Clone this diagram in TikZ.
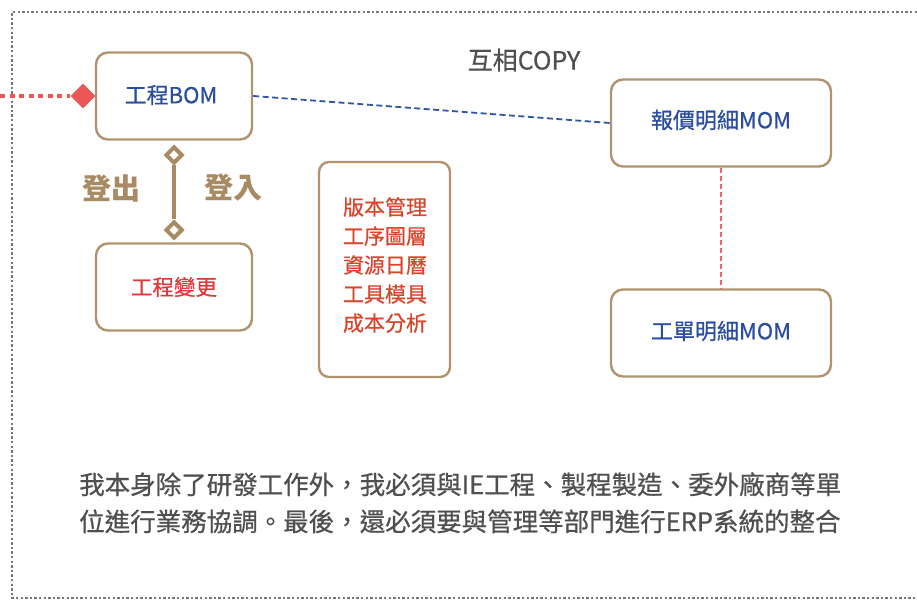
\documentclass[tikz,border=0pt]{standalone}
\usepackage{fontspec}
\setmainfont{Noto Sans CJK TC}
\newfontfamily\medcjk[FakeBold=0.6]{Noto Sans CJK TC}
\usetikzlibrary{shapes.geometric}
\definecolor{boxbrown}{HTML}{B0946F}
\definecolor{linkbrown}{HTML}{A88A63}
\definecolor{txtblue}{HTML}{2A4DA0}
\definecolor{txtred}{HTML}{E0383A}
\definecolor{txtorange}{HTML}{D9452B}
\definecolor{txtgray}{HTML}{4F4F4F}
\definecolor{dotred}{HTML}{EB5757}
\definecolor{dashred}{HTML}{E8676A}
\definecolor{dashblue}{HTML}{2F55A4}
\definecolor{framegray}{HTML}{777777}
\begin{document}
\begin{tikzpicture}[x=1pt,y=-1pt,
  box/.style={draw=boxbrown, line width=2.4pt, rounded corners=12pt, fill=white, minimum width=156pt, minimum height=87pt, inner sep=0pt},
  widebox/.style={box, minimum width=220pt},
  bluetxt/.style={text=txtblue, font=\medcjk\fontsize{22}{24}\selectfont},
  hollowdia/.style={diamond, draw=linkbrown, line width=4pt, fill=white, minimum size=17pt, inner sep=0pt},
  reddia/.style={diamond, fill=dotred, minimum size=25pt, inner sep=0pt},
  brownlbl/.style={text=linkbrown, font=\fontsize{29}{30}\selectfont\bfseries}
]
\useasboundingbox (0,0) rectangle (917,601);
\fill[white] (0,0) rectangle (917,601);
% outer dotted frame
\begin{scope}
\clip (0,0) rectangle (917,601);
\draw[framegray, line width=2.6pt, dash pattern=on 2.4pt off 2.2pt] (940,12) -- (12,12) -- (12,598) -- (940,598);
\end{scope}

% nodes
\node[box] (bom) at (174,96) {};
\node[bluetxt] (bomtxt) at (171,95) {工程BOM};
\node[box] (ecn) at (174,287) {};
\node[text=txtred, font=\medcjk\fontsize{21.5}{24}\selectfont] (ecntxt) at (174,287) {工程變更};
\node[draw=boxbrown, line width=2.4pt, rounded corners=10pt, minimum width=131pt, minimum height=215pt, inner sep=0pt] (list) at (384.5,269.5) {};
\node[text=txtorange, font=\medcjk\fontsize{21}{29}\selectfont, align=center] (listtxt) at (385,265) {版本管理\\工序圖層\\資源日曆\\工具模具\\成本分析};
\node[widebox] (quote) at (721,123) {};
\node[bluetxt] (quotetxt) at (721,120) {報價明細MOM};
\node[widebox] (wo) at (721,333) {};
\node[bluetxt] (wotxt) at (721,331) {工單明細MOM};

\node[text=txtgray, font=\medcjk\fontsize{25}{28}\selectfont] (copy) at (524,60) {互相COPY};

% red dotted link into BOM
\coordinate (redstart) at (0,96);
\node[reddia] (rd) at (83,96) {};
\draw[dotred, line width=4.5pt, dash pattern=on 5pt off 4.5pt] (redstart) -- (rd.west);

% blue dashed copy link
\draw[dashblue, line width=1.8pt, dash pattern=on 6pt off 3.5pt] (bom.east) -- (quote.west);

% red dashed vertical
\draw[dashred, line width=1.6pt, dash pattern=on 5pt off 3pt] (quote.south) -- (wo.north);

% brown check-in/out link
\node[hollowdia] (dtop) at (174,155) {};
\node[hollowdia] (dbot) at (174,230) {};
\draw[linkbrown, line width=4.5pt] (dtop.south) -- (dbot.north);
\node[brownlbl] (out) at (111,188) {登出};
\node[brownlbl] (in) at (233,188) {登入};

% paragraph
\node[text=txtgray, font=\medcjk\fontsize{25.5}{37}\selectfont, anchor=north west, align=left, inner sep=0pt] (para) at (79,472) {我本身除了研發工作外，我必須與IE工程、製程製造、委外廠商等單\\位進行業務協調。最後，還必須要與管理等部門進行ERP系統的整合};
\end{tikzpicture}
\end{document}
